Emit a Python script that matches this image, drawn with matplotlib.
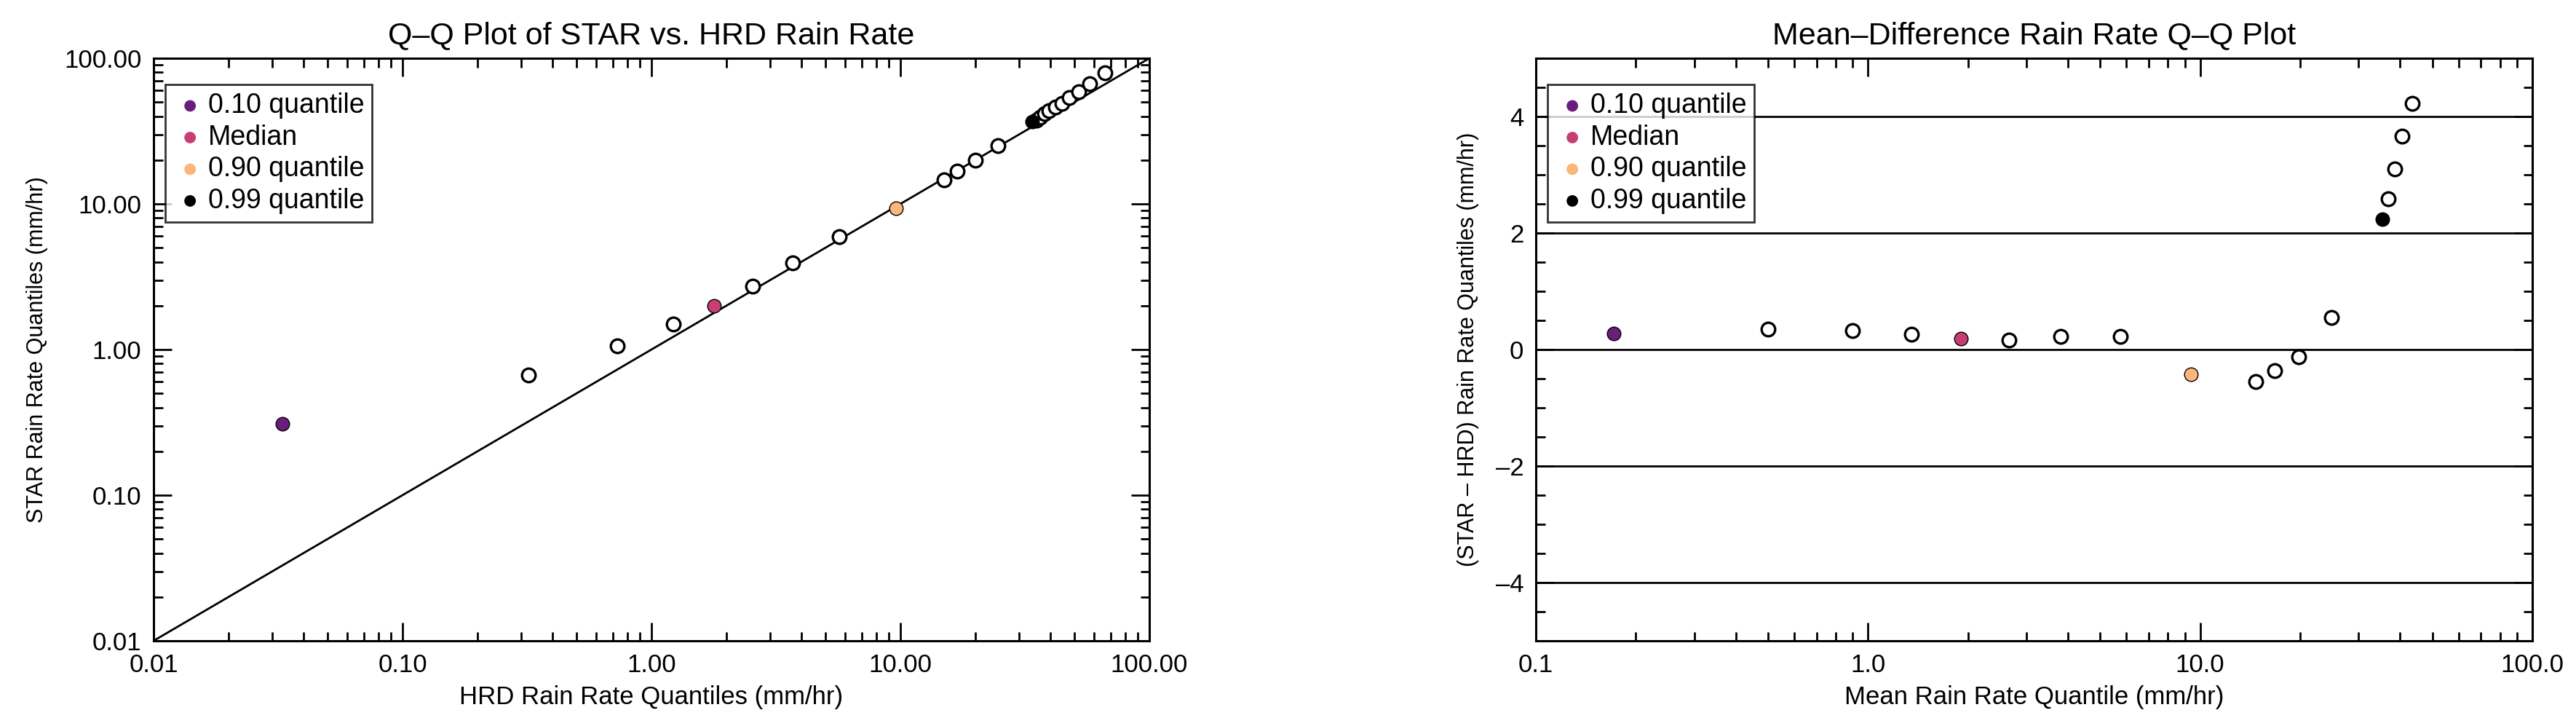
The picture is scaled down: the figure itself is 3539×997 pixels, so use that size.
import numpy as np
import matplotlib
matplotlib.use("Agg")
import matplotlib.pyplot as plt
from matplotlib.ticker import FixedLocator, NullFormatter, FuncFormatter, MultipleLocator

# Left panel: HRD vs STAR quantiles (mm/hr)
hrd_q = [0.033, 0.32, 0.73, 1.22, 1.79, 2.55, 3.70, 5.69, 9.6, 15.0, 16.9, 20.0, 24.7, 33.8,
         35.2, 36.5, 38.0, 39.4, 41.9, 44.6, 47.8, 52.0, 57.5, 66.5]
star_q = [0.31, 0.67, 1.06, 1.49, 2.0, 2.73, 3.94, 5.93, 9.33, 14.6, 16.8, 19.9, 25.2, 36.6,
          37.8, 39.4, 41.5, 43.7, 46.4, 49.2, 53.7, 59.0, 66.8, 79.6]

# Right panel: mean vs difference
mean_q = [0.172, 0.50, 0.90, 1.35, 1.90, 2.66, 3.81, 5.76, 9.4, 14.7, 16.8, 19.8, 24.9,
          35.3, 36.9, 38.6, 40.6, 43.4]
diff_q = [0.28, 0.35, 0.32, 0.26, 0.19, 0.16, 0.22, 0.23, -0.42, -0.55, -0.36, -0.12, 0.55,
          2.24, 2.59, 3.10, 3.66, 4.23]

special_labels = ["0.10 quantile", "Median", "0.90 quantile", "0.99 quantile"]
special_colors = ["#6b1d7d", "#c83e73", "#fbb67c", "#000000"]
special_left = [0, 4, 8, 13]
special_right = [0, 4, 8, 13]

plt.rcParams["font.family"] = ["Liberation Sans Narrow", "Liberation Sans", "DejaVu Sans"]
plt.rcParams["axes.linewidth"] = 2.2

fig = plt.figure(figsize=(35.39, 9.97), dpi=100)
ax1 = fig.add_axes([211 / 3539, 1 - 880 / 997, 1368 / 3539, 800 / 997])
ax2 = fig.add_axes([2110 / 3539, 1 - 880 / 997, 1369 / 3539, 800 / 997])

ms = 180


def style_ticks(ax):
    ax.tick_params(which="both", direction="in", top=True, right=True, labelsize=25, pad=12)
    ax.tick_params(which="major", length=18, width=2)
    ax.tick_params(which="minor", length=9, width=2)


def draw_points(ax, xs, ys, specials):
    hollow = [i for i in range(len(xs)) if i not in specials]
    ax.scatter([xs[i] for i in hollow], [ys[i] for i in hollow], s=ms,
               facecolors="white", edgecolors="black", linewidths=2.4, zorder=3)
    for lab, col, i in zip(special_labels, special_colors, specials):
        ax.scatter([xs[i]], [ys[i]], s=ms, color=col, edgecolors="black",
                   linewidths=1.0, zorder=4, label=lab)
    leg = ax.legend(loc="upper left", bbox_to_anchor=(0.012, 0.955), frameon=True, fancybox=False,
                    fontsize=27, handletextpad=0.05, borderpad=0.3, labelspacing=0.2,
                    handlelength=1.2, markerscale=0.85, borderaxespad=0)
    leg.get_frame().set_edgecolor("black")
    leg.get_frame().set_linewidth(2)
    for h in leg.legend_handles:
        h.set_edgecolor("none")


# ---- left panel
ax1.set_xscale("log")
ax1.set_yscale("log")
ax1.set_xlim(0.01, 100)
ax1.set_ylim(0.01, 100)
ax1.plot([0.01, 100], [0.01, 100], color="black", lw=2, zorder=2)
draw_points(ax1, hrd_q, star_q, special_left)
fmt2 = FuncFormatter(lambda v, p: f"{v:.2f}")
ax1.xaxis.set_major_formatter(fmt2)
ax1.yaxis.set_major_formatter(fmt2)
ax1.xaxis.set_minor_formatter(NullFormatter())
ax1.yaxis.set_minor_formatter(NullFormatter())
style_ticks(ax1)
ax1.set_title("Q\u2013Q Plot of STAR vs. HRD Rain Rate", fontsize=31, pad=14)
ax1.set_xlabel("HRD Rain Rate Quantiles (mm/hr)", fontsize=25, labelpad=8)
ax1.set_ylabel("STAR Rain Rate Quantiles (mm/hr)", fontsize=22, labelpad=16,
               family=["Liberation Sans", "DejaVu Sans"])

# ---- right panel
ax2.set_xscale("log")
ax2.set_xlim(0.1, 100)
ax2.set_ylim(-5, 5)
for yl in [-4, -2, 0, 2, 4]:
    ax2.axhline(yl, color="black", lw=2, zorder=2)
draw_points(ax2, mean_q, diff_q, special_right)
ax2.xaxis.set_major_formatter(FuncFormatter(lambda v, p: f"{v:.1f}"))
ax2.xaxis.set_minor_formatter(NullFormatter())
ax2.yaxis.set_major_locator(FixedLocator([-4, -2, 0, 2, 4]))
ax2.yaxis.set_minor_locator(MultipleLocator(0.5))
ax2.yaxis.set_major_formatter(FuncFormatter(lambda v, p: f"{v:.0f}".replace("-", "\u2013")))
style_ticks(ax2)
ax2.set_title("Mean\u2013Difference Rain Rate Q\u2013Q Plot", fontsize=31, pad=14)
ax2.set_xlabel("Mean Rain Rate Quantile (mm/hr)", fontsize=25, labelpad=8)
ax2.set_ylabel("(STAR \u2013 HRD) Rain Rate Quantiles (mm/hr)", fontsize=22, labelpad=16,
               family=["Liberation Sans", "DejaVu Sans"])

fig.savefig("out.png", dpi=100)
